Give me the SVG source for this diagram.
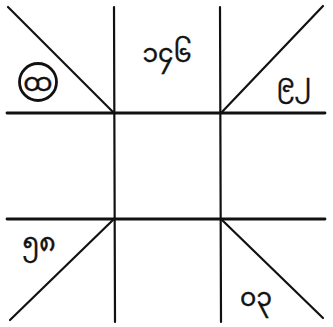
<svg xmlns="http://www.w3.org/2000/svg" width="333" height="327" viewBox="0 0 333 327">
<style>
.ln{stroke:#111;stroke-width:2.2;stroke-linecap:round;fill:none}
.t{font-family:"Noto Sans Myanmar","Padauk","Myanmar Text","Noto Sans","DejaVu Sans",sans-serif;font-size:25px;fill:#111;stroke:#111;stroke-width:0.4;text-anchor:middle}
</style>
<rect width="333" height="327" fill="#fff"/>
<g id="connectors">
<line class="ln" x1="114" y1="7" x2="115" y2="322"/>
<line class="ln" x1="220" y1="7" x2="221" y2="322"/>
<line class="ln" x1="7" y1="113" x2="325" y2="113" style="stroke-width:2.8"/>
<line class="ln" x1="7" y1="219" x2="325" y2="219" style="stroke-width:2.8"/>
<line class="ln" x1="8" y1="7" x2="114" y2="113"/>
<line class="ln" x1="323" y1="6" x2="221" y2="113"/>
<line class="ln" x1="10" y1="320" x2="114" y2="219"/>
<line class="ln" x1="221" y1="219" x2="323" y2="318"/>
</g>
<g id="n-topleft">
<circle cx="38" cy="82" r="18.5" fill="none" stroke="#111" stroke-width="2.8"/>
<text class="t" x="38" y="91" style="font-size:26px">ထ</text>
</g>
<g id="n-top"><text class="t" x="167" y="62">၁၄၆</text></g>
<g id="n-right"><text class="t" x="294" y="92">၉၂</text></g>
<g id="n-bottomleft"><text class="t" x="39" y="251">၅၈</text></g>
<g id="n-bottomright"><text class="t" x="256" y="306">၀၃</text></g>
</svg>
